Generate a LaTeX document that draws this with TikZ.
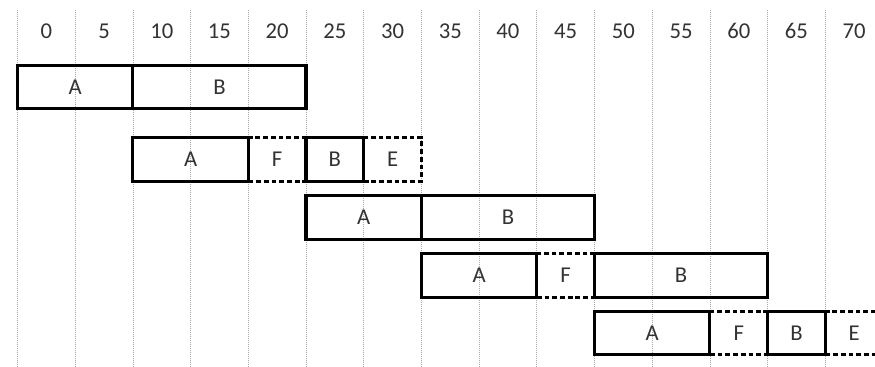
\documentclass[tikz,border=0pt]{standalone}
\usepackage{fontspec}
\setmainfont{Carlito}
\usetikzlibrary{positioning}

\begin{document}
\begin{tikzpicture}[
    x=0.75pt, y=-0.75pt,
    grid/.style={densely dotted, gray!70, line width=0.5pt},
    tick/.style={text=black!80, font=\fontsize{17}{19}\selectfont},
    task/.style={rectangle, draw, line width=2.3pt, inner sep=0pt, outer sep=0pt, minimum height=32.6pt, minimum width=#1*43.275pt, text=black!80, font=\fontsize{17}{19}\selectfont},
    idle/.style={task=#1, dash pattern=on 3.6pt off 2.2pt}
]
\useasboundingbox (0,0) rectangle (875,367);
\clip (0,0) rectangle (875,367);

% time grid
\foreach \i in {0,...,14}
    \draw[grid] (17.5+57.7*\i,10) -- (17.5+57.7*\i,367);
\foreach \t [count=\i from 0] in {0,5,...,70}
    \node[tick] (t\t) at (46.35+57.7*\i,31) {\t};

% row 1
\node[task=2, anchor=west] (a1) at (17.5,87) {A};
\node[task=3, right=0pt of a1] (b1) {B};

% row 2
\node[task=2, anchor=west] (a2) at (132.9,159.5) {A};
\node[idle=1, right=0pt of a2] (f2) {F};
\node[task=1, right=0pt of f2] (b2) {B};
\node[idle=1, right=0pt of b2] (e2) {E};

% row 3
\node[task=2, anchor=west] (a3) at (306,217.5) {A};
\node[task=3, right=0pt of a3] (b3) {B};

% row 4
\node[task=2, anchor=west] (a4) at (421.4,275.5) {A};
\node[idle=1, right=0pt of a4] (f4) {F};
\node[task=3, right=0pt of f4] (b4) {B};

% row 5
\node[task=2, anchor=west] (a5) at (594.5,333) {A};
\node[idle=1, right=0pt of a5] (f5) {F};
\node[task=1, right=0pt of f5] (b5) {B};
\node[idle=1, right=0pt of b5] (e5) {E};
\end{tikzpicture}
\end{document}
